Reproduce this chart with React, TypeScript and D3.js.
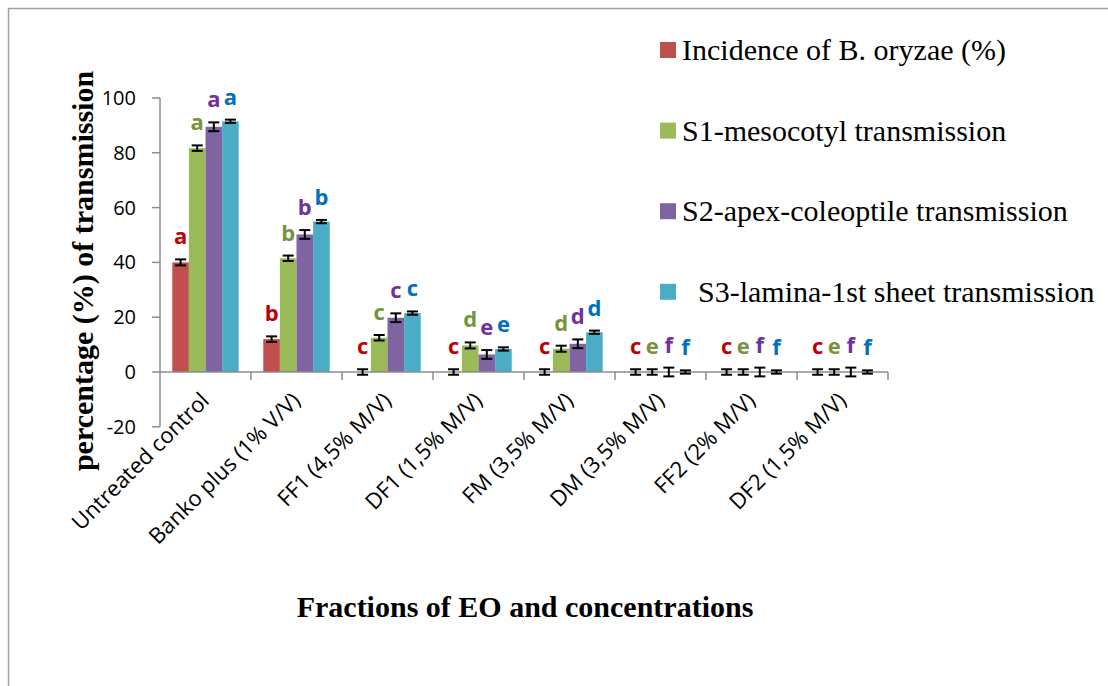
import React from "react";
import * as d3 from "d3";

const categories = [
  "Untreated control",
  "Banko plus (1% V/V)",
  "FF1 (4,5% M/V)",
  "DF1 (1,5% M/V)",
  "FM (3,5% M/V)",
  "DM (3,5% M/V)",
  "FF2 (2% M/V)",
  "DF2 (1,5% M/V)",
];

const seriesNames = [
  "Incidence of B. oryzae (%)",
  "S1-mesocotyl transmission",
  "S2-apex-coleoptile transmission",
  "S3-lamina-1st sheet transmission",
];

const incidence = [40, 12, 0, 0, 0, 0, 0, 0];
const s1 = [81.7, 41.5, 12.5, 9.7, 8.5, 0, 0, 0];
const s2 = [89.5, 50.2, 19.8, 6.4, 10.3, 0, 0, 0];
const s3 = [91.5, 54.9, 21.5, 8.4, 14.5, 0, 0, 0];

const incidenceErr = [1.1, 1, 1, 1, 1, 1, 1, 1];
const s1Err = [1, 1, 1, 1.1, 1.1, 1, 1, 1];
const s2Err = [1.6, 1.6, 1.6, 1.6, 1.6, 1.6, 1.6, 1.6];
const s3Err = [0.6, 0.6, 0.6, 0.6, 0.6, 0.6, 0.6, 0.6];

const incidenceLetters = ["a", "b", "c", "c", "c", "c", "c", "c"];
const s1Letters = ["a", "b", "c", "d", "d", "e", "e", "e"];
const s2Letters = ["a", "b", "c", "e", "d", "f", "f", "f"];
const s3Letters = ["a", "b", "c", "e", "d", "f", "f", "f"];

const yTicks = [-20, 0, 20, 40, 60, 80, 100];

const barColors = ["#C0504D", "#9BBB59", "#8064A2", "#4BACC6"];
const letterColors = ["#C00000", "#77933C", "#7030A0", "#0070C0"];

export default function App() {
  const W = 1108;
  const H = 686;
  const x0 = 160;
  const x1 = 888;
  const y = d3.scaleLinear().domain([-20, 100]).range([426.8, 98]);
  const x = d3
    .scaleBand<string>()
    .domain(categories)
    .range([x0, x1])
    .paddingInner(0.27)
    .paddingOuter(0.135);
  const xs = d3
    .scaleBand<string>()
    .domain(seriesNames)
    .range([0, x.bandwidth()]);

  const values = [incidence, s1, s2, s3];
  const errs = [incidenceErr, s1Err, s2Err, s3Err];
  const letters = [incidenceLetters, s1Letters, s2Letters, s3Letters];
  const step = x.step();
  const boundaries = d3.range(categories.length + 1).map((i) => x0 + i * step);
  const axisColor = "#8C8C8C";
  const sans = "'Open Sans', 'DejaVu Sans', sans-serif";
  const serif = "'Liberation Serif', 'Times New Roman', serif";

  return (
    <svg
      width={W}
      height={H}
      style={{ position: "absolute", left: 0, top: 0, background: "#fff" }}
    >
      <rect x={0} y={0} width={W} height={H} fill="#fff" />
      {/* frame */}
      <line x1={8.5} y1={8} x2={8.5} y2={H} stroke="#A0A0A0" strokeWidth={1.5} />
      <line x1={8} y1={8.5} x2={W} y2={8.5} stroke="#A0A0A0" strokeWidth={1.5} />

      {/* bars */}
      {values.map((vals, si) =>
        vals.map((v, ci) => {
          const bx = (x(categories[ci]) as number) + (xs(seriesNames[si]) as number);
          const top = y(Math.max(v, 0));
          const h = y(0) - top;
          return (
            <rect
              key={`b${si}-${ci}`}
              x={bx}
              y={top}
              width={xs.bandwidth()}
              height={Math.max(h, 0)}
              fill={barColors[si]}
            />
          );
        })
      )}

      {/* axes */}
      <line x1={x0} y1={y(100)} x2={x0} y2={y(-20)} stroke={axisColor} strokeWidth={1.5} />
      {yTicks.map((t) => (
        <g key={`yt${t}`}>
          <line x1={x0 - 8} x2={x0} y1={y(t)} y2={y(t)} stroke={axisColor} strokeWidth={1.5} />
          <text
            x={136}
            y={y(t) + 7}
            textAnchor="end"
            fontFamily={sans}
            fontSize={20}
            fill="#000"
          >
            {t}
          </text>
        </g>
      ))}
      <line x1={x0} y1={y(0)} x2={x1} y2={y(0)} stroke={axisColor} strokeWidth={1.5} />
      {boundaries.slice(1).map((bx, i) => (
        <line
          key={`xt${i}`}
          x1={bx}
          x2={bx}
          y1={y(0)}
          y2={y(0) + 8}
          stroke={axisColor}
          strokeWidth={1.5}
        />
      ))}

      {/* error bars */}
      {values.map((vals, si) =>
        vals.map((v, ci) => {
          const cx =
            (x(categories[ci]) as number) +
            (xs(seriesNames[si]) as number) +
            xs.bandwidth() / 2;
          const e = errs[si][ci];
          const yt = y(v + e);
          const yb = y(v - e);
          return (
            <g key={`e${si}-${ci}`} stroke="#000" strokeWidth={2}>
              <line x1={cx} x2={cx} y1={yt} y2={yb} />
              <line x1={cx - 5.5} x2={cx + 5.5} y1={yt} y2={yt} />
              <line x1={cx - 5.5} x2={cx + 5.5} y1={yb} y2={yb} />
            </g>
          );
        })
      )}

      {/* significance letters */}
      {values.map((vals, si) =>
        vals.map((v, ci) => {
          const cx =
            (x(categories[ci]) as number) +
            (xs(seriesNames[si]) as number) +
            xs.bandwidth() / 2;
          return (
            <text
              key={`l${si}-${ci}`}
              x={cx}
              y={y(v + errs[si][ci]) - 15}
              textAnchor="middle"
              fontFamily={sans}
              fontWeight="bold"
              fontSize={22}
              fill={letterColors[si]}
            >
              {letters[si][ci]}
            </text>
          );
        })
      )}

      {/* category labels */}
      {categories.map((c, i) => {
        const cx = (x(c) as number) + x.bandwidth() / 2 + 5;
        const cy = 402;
        return (
          <text
            key={`cl${i}`}
            transform={`translate(${cx},${cy}) rotate(-45)`}
            textAnchor="end"
            fontFamily={sans}
            fontSize={22}
            fill="#000"
          >
            {c}
          </text>
        );
      })}

      {/* axis titles */}
      <text
        transform={`translate(93,271) rotate(-90)`}
        textAnchor="middle"
        fontFamily={serif}
        fontWeight="bold"
        fontSize={30}
        fill="#000"
      >
        percentage (%) of transmission
      </text>
      <text
        x={525}
        y={617}
        textAnchor="middle"
        fontFamily={serif}
        fontWeight="bold"
        fontSize={30}
        fill="#000"
      >
        Fractions of EO and concentrations
      </text>

      {/* legend */}
      {seriesNames.map((s, i) => {
        const base = 60 + i * 80.6;
        return (
          <g key={`lg${i}`}>
            <rect x={660} y={base - 18} width={16} height={16} fill={barColors[i]} />
            <text
              x={i === 3 ? 698 : 682}
              y={base}
              fontFamily={serif}
              fontSize={30}
              fill="#000"
            >
              {s}
            </text>
          </g>
        );
      })}
    </svg>
  );
}
